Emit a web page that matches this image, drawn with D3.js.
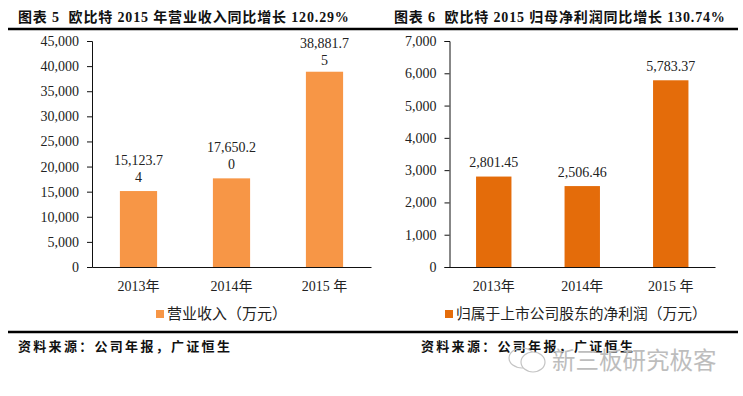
<!DOCTYPE html>
<html>
<head>
<meta charset="utf-8">
<script src="https://cdnjs.cloudflare.com/ajax/libs/d3/7.8.5/d3.min.js"></script>
<style>
  html, body { margin: 0; padding: 0; background: white; }
  svg { display: block; }
  .tick text, .val, .legend { font-family: "Liberation Serif", "Noto Sans CJK SC"; fill: #222; }
  .head { font-family: "Liberation Serif", "Noto Sans CJK SC"; font-weight: bold; fill: #111; }
</style>
</head>
<body>
<div id="chart"></div>
<script>
// values
const years = ["2013年", "2014年", "2015 年"];
const revenue = [15123.74, 17650.20, 38881.75];
const revenueLabels = [["15,123.7", "4"], ["17,650.2", "0"], ["38,881.7", "5"]];
const profit = [2801.45, 2506.46, 5783.37];
const profitLabels = [["2,801.45"], ["2,506.46"], ["5,783.37"]];
const revenueTicks = [0, 5000, 10000, 15000, 20000, 25000, 30000, 35000, 40000, 45000];
const profitTicks = [0, 1000, 2000, 3000, 4000, 5000, 6000, 7000];

let width = 743;
let height = 396;
let plotTop = 41, plotBottom = 267;

let svg = d3.select("#chart").append("svg")
    .attr("width", width)
    .attr("height", height);

function barChart(opts) {
    let x = d3.scaleBand()
        .domain(years)
        .range([opts.left, opts.right])
        .paddingInner(opts.padding)
        .paddingOuter(opts.padding / 2);

    let y = d3.scaleLinear()
        .domain([0, opts.max])
        .range([plotBottom, plotTop]);

    let g = svg.append("g");

    g.selectAll(".bar")
        .data(opts.values)
        .enter()
        .append("rect")
        .attr("class", "bar")
        .attr("x", (d, i) => x(years[i]))
        .attr("y", d => y(d))
        .attr("width", x.bandwidth())
        .attr("height", d => plotBottom - y(d))
        .attr("fill", opts.color);

    // y axis, ticks stick out to the left
    let yAxis = d3.axisLeft(y)
        .tickValues(opts.ticks)
        .tickFormat(d3.format(","))
        .tickSize(5)
        .tickPadding(8);

    let yG = g.append("g")
        .attr("transform", "translate(" + opts.left + ",0)")
        .call(yAxis);
    yG.selectAll("text").attr("font-size", 14);
    yG.selectAll("line").attr("stroke", "#111");
    yG.select(".domain").attr("stroke", "#111");

    let xAxis = d3.axisBottom(x).tickSize(0).tickPadding(14);
    let xG = g.append("g")
        .attr("transform", "translate(0," + plotBottom + ")")
        .call(xAxis);
    xG.selectAll("text").attr("font-size", 14);
    xG.select(".domain").attr("stroke", "#111");

    // data labels, may wrap on two lines like the original
    opts.labels.forEach((lines, i) => {
        let cx = x(years[i]) + x.bandwidth() / 2;
        let by = y(opts.values[i]) + opts.labelShift[i];
        lines.forEach((t, j) => {
            g.append("text")
                .attr("class", "val")
                .attr("x", cx)
                .attr("y", by - 9.5 - (lines.length - 1 - j) * 17)
                .attr("text-anchor", "middle")
                .attr("font-size", 14)
                .text(t);
        });
    });

    // legend
    g.append("rect")
        .attr("x", opts.legendX)
        .attr("y", 310)
        .attr("width", 8)
        .attr("height", 8)
        .attr("fill", opts.color);
    g.append("text")
        .attr("class", "legend")
        .attr("x", opts.legendX + 11)
        .attr("y", 319)
        .attr("font-size", opts.legendSize)
        .text(opts.legend);
}

barChart({
    left: 92, right: 371, max: 45000, padding: 0.6,
    values: revenue, labels: revenueLabels, ticks: revenueTicks, labelShift: [0, 0, 3],
    color: "#F79646", legend: "营业收入（万元）", legendX: 156, legendSize: 15
});

barChart({
    left: 449.5, right: 715, max: 7000, padding: 0.6,
    values: profit, labels: profitLabels, ticks: profitTicks, labelShift: [0, 0, 0],
    color: "#E46C0A", legend: "归属于上市公司股东的净利润（万元）", legendX: 445, legendSize: 14.75
});

// header and footer rules
[[8, 372, 29], [372, 738, 29], [8, 372, 332], [372, 738, 332]].forEach(r => {
    svg.append("line")
        .attr("x1", r[0]).attr("x2", r[1])
        .attr("y1", r[2]).attr("y2", r[2])
        .attr("stroke", "black")
        .attr("stroke-width", 2.5);
});

let titles = [
    {x: 18, y: 22, t: "图表 5  欧比特 2015 年营业收入同比增长 120.29%"},
    {x: 394, y: 22, t: "图表 6  欧比特 2015 归母净利润同比增长 130.74%"},
];
svg.selectAll(".title")
    .data(titles)
    .enter()
    .append("text")
    .attr("class", "head title")
    .attr("x", d => d.x)
    .attr("y", d => d.y)
    .attr("font-size", 14)
    .attr("letter-spacing", 0.85)
    .style("white-space", "pre")
    .text(d => d.t);

let sources = [{x: 18, y: 351}, {x: 421, y: 351}];
svg.selectAll(".source")
    .data(sources)
    .enter()
    .append("text")
    .attr("class", "head source")
    .attr("x", d => d.x)
    .attr("y", d => d.y)
    .attr("font-size", 13)
    .attr("letter-spacing", 2.3)
    .text("资料来源：公司年报，广证恒生");

// watermark
let mark = svg.append("g").attr("fill", "none").attr("stroke", "#c4c4c4").attr("stroke-width", 1.2);
mark.append("ellipse").attr("cx", 522).attr("cy", 358).attr("rx", 13).attr("ry", 10);
mark.append("ellipse").attr("cx", 533).attr("cy", 362).attr("rx", 12).attr("ry", 10).attr("fill", "white");
svg.append("text")
    .attr("x", 552)
    .attr("y", 369)
    .attr("font-family", "Noto Sans CJK SC")
    .attr("font-size", 23.5)
    .attr("fill", "#bdbdbd")
    .text("新三板研究极客");
</script>
</body>
</html>
